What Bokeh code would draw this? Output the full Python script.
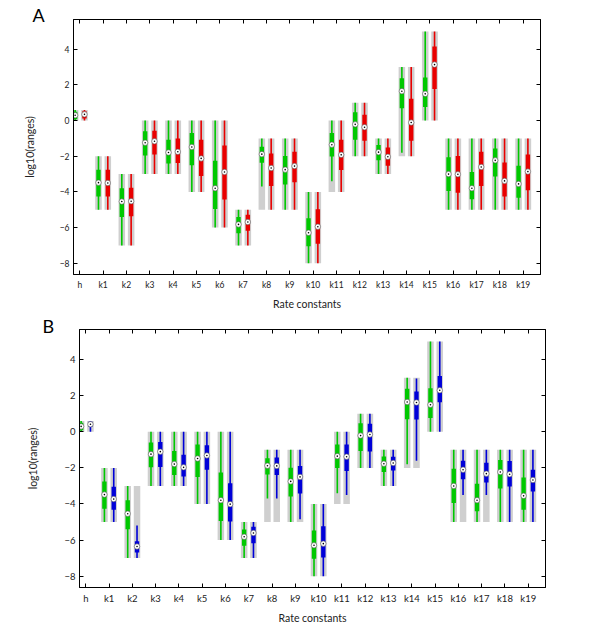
from bokeh.plotting import figure
from bokeh.models import Range1d, FixedTicker, LinearAxis, ColumnDataSource
from bokeh.layouts import column
from bokeh.transform import dodge
from bokeh.embed import file_html
from bokeh.resources import INLINE

categories = ["h", "k1", "k2", "k3", "k4", "k5", "k6", "k7", "k8", "k9", "k10",
              "k11", "k12", "k13", "k14", "k15", "k16", "k17", "k18", "k19"]
y_ticks = [-8, -6, -4, -2, 0, 2, 4]

# prior ranges (grey bars)
prior_lo = [0, -5, -7, -3, -3, -4, -6, -7, -5, -5, -8, -4, -2, -3, -2, 0, -5, -5, -5, -5]
prior_hi = [0.6, -2, -3, 0, 0, 0, 0, -5, -1, -1, -4, 0, 1, -1, 3, 5, -1, -1, -1, -1]

# green series (both panels)
green_wlo = [0, -5, -7, -3, -3, -4, -6, -7, -3.7, -5, -8, -3.4, -2, -3, -1.8, 0, -5, -5, -5, -5]
green_whi = [0.6, -2, -3, 0, 0, 0, 0, -5, -1, -1, -4, 0, 1, -1, 3, 5, -1, -1, -1, -1]
green_q1 = [0.08, -4.26, -5.4, -1.96, -2.4, -2.51, -4.95, -6.32, -2.36, -3.58, -7.04,
            -2.01, -1.07, -2.23, 0.70, 0.76, -3.95, -4.41, -3.14, -4.32]
green_q3 = [0.5, -2.76, -3.8, -0.6, -1.07, -0.70, -2.25, -5.41, -1.46, -1.99, -5.47,
            -0.70, 0.47, -1.37, 2.38, 2.42, -2.05, -2.88, -1.57, -2.53]
green_med = [0.3, -3.48, -4.54, -1.24, -1.79, -1.48, -3.79, -5.82, -1.88, -2.75, -6.29,
             -1.35, -0.21, -1.77, 1.65, 1.5, -3.0, -3.79, -2.23, -3.55]

# red series (panel A)
red_wlo = [0, -5, -7, -3, -3, -4, -6, -7, -5, -5, -8, -4, -2, -3, -2, 0, -5, -5, -5, -5]
red_whi = [0.6, -2, -3, 0, 0, 0, 0, -5, -1, -1, -4, 0, 1, -1, 3, 5, -1, -1, -1, -1]
red_q1 = [0.12, -4.25, -5.37, -1.9, -2.38, -3.1, -4.43, -6.17, -3.67, -3.45, -6.9,
          -2.77, -1.13, -2.53, -1.13, 1.77, -4.04, -3.67, -4.25, -3.9]
red_q3 = [0.52, -2.75, -3.77, -0.57, -1.0, -1.07, -1.40, -5.28, -1.85, -1.75, -4.97,
          -1.07, 0.33, -1.51, 1.22, 4.16, -1.99, -1.75, -2.35, -1.9]
red_med = [0.35, -3.5, -4.52, -1.16, -1.75, -2.12, -2.88, -5.69, -2.66, -2.55, -5.95,
           -1.92, -0.37, -2.03, -0.11, 3.14, -3.01, -2.6, -3.38, -2.86]

# blue series (panel B)
blue_wlo = [0, -5, -7, -3, -3, -4, -6, -7, -3.7, -4.85, -8, -3.5, -2, -3, -1.6, 0, -3.5, -3.5, -5, -5]
blue_whi = [0.6, -2, -5.2, 0, 0, 0, 0, -5, -1, -1, -4, 0, 1, -1, 2.95, 5, -1, -1, -1, -1]
blue_q1 = [0.28, -4.32, -6.69, -1.95, -2.48, -2.1, -4.97, -6.18, -2.39, -3.42, -6.97,
           -2.17, -1.09, -2.15, 0.68, 1.64, -2.63, -2.81, -3.03, -3.31]
blue_q3 = [0.55, -3.05, -6.07, -0.57, -1.27, -0.74, -2.85, -5.26, -1.43, -1.89, -5.24,
           -0.70, 0.44, -1.38, 2.24, 3.09, -1.6, -1.71, -1.62, -2.11]
blue_med = [0.42, -3.73, -6.36, -1.1, -1.97, -1.31, -4.01, -5.61, -1.89, -2.5, -6.2,
            -1.38, -0.15, -1.73, 1.62, 2.3, -2.1, -2.32, -2.35, -2.67]

GREEN = "#00c800"
RED = "#e80000"
BLUE = "#0000d8"
GREY = "#cfcfcf"
FONT = "Lato"


def draw_series(p, off, wlo, whi, q1, q3, med, color):
    src = ColumnDataSource(dict(x=list(range(len(categories))), plo=prior_lo, phi=prior_hi,
                                wlo=wlo, whi=whi, q1=q1, q3=q3, med=med))
    xs = dodge("x", off)
    p.vbar(x=xs, bottom="plo", top="phi", width=0.28, fill_color=GREY, line_color=None, source=src)
    p.segment(x0=xs, y0="wlo", x1=xs, y1="whi", line_color=color, line_width=1.6, source=src)
    p.vbar(x=xs, bottom="q1", top="q3", width=0.19, fill_color=color, line_color=None, source=src)
    p.scatter(x=xs, y="med", size=5.5, fill_color="white", line_color="#555555", line_width=0.6, source=src)
    p.scatter(x=xs, y="med", size=1.6, fill_color="black", line_color=None, source=src)


def make_panel(letter, second, height, borders, title_offset, title_standoff,
               tick_size, ylabel_standoff, xtick_standoff, xlabel_standoff):
    left, right, top, bottom = borders
    p = figure(width=600, height=height, output_backend="svg", toolbar_location=None,
               x_range=Range1d(-0.27, 19.74), y_range=Range1d(-8.63, 5.67),
               min_border_left=left, min_border_right=right,
               min_border_top=top, min_border_bottom=bottom, title=letter)
    try:
        p.frame_align = False
    except Exception:
        pass
    p.title.align = "left"
    p.title.offset = title_offset
    p.title.standoff = title_standoff
    p.title.text_font = FONT
    p.title.text_font_size = "18px"
    p.title.text_font_style = "normal"
    p.title.text_color = "black"

    p.grid.visible = False
    p.outline_line_color = "black"
    p.outline_line_width = 1
    p.background_fill_color = "white"
    p.border_fill_color = "white"

    xt = FixedTicker(ticks=list(range(len(categories))))
    yt = FixedTicker(ticks=y_ticks)
    for ax in p.xaxis:
        ax.ticker = xt
        ax.major_label_overrides = {i: c for i, c in enumerate(categories)}
        ax.axis_label = "Rate constants"
        ax.major_label_text_font_size = tick_size
    for ax in p.yaxis:
        ax.ticker = yt
        ax.axis_label = "log10(ranges)"
        ax.major_label_orientation = "horizontal"
        ax.major_label_text_font_size = tick_size

    for ax in p.axis:
        ax.major_label_text_color = "#222222"

    top_ax = LinearAxis(ticker=xt)
    right_ax = LinearAxis(ticker=yt)
    for ax in [top_ax, right_ax]:
        ax.major_label_text_font_size = "1px"
        ax.major_label_text_color = None
        ax.major_label_standoff = 0
    p.add_layout(top_ax, "above")
    p.add_layout(right_ax, "right")
    for ax in p.axis:
        ax.major_tick_in = 4
        ax.major_tick_out = 0
        ax.minor_tick_in = 0
        ax.minor_tick_out = 0
        ax.axis_line_color = "black"
        ax.major_tick_line_color = "black"
        ax.major_label_text_font = FONT
        ax.axis_label_text_font = FONT
        ax.axis_label_text_font_style = "normal"
        ax.axis_label_text_font_size = "10.5px"
        ax.axis_label_text_color = "#222222"
    p.xaxis[0].major_label_standoff = xtick_standoff
    p.xaxis[0].axis_label_standoff = xlabel_standoff
    p.yaxis[0].major_label_standoff = 4
    p.yaxis[0].axis_label_standoff = ylabel_standoff

    draw_series(p, -0.2, green_wlo, green_whi, green_q1, green_q3, green_med, GREEN)
    wlo, whi, q1, q3, med, color = second
    draw_series(p, 0.2, wlo, whi, q1, q3, med, color)
    return p


pA = make_panel("A", (red_wlo, red_whi, red_q1, red_q3, red_med, RED), 312,
                (73, 60, 19, 35), -41, -12, "8.5px", 21, 4, 0)
pB = make_panel("B", (blue_wlo, blue_whi, blue_q1, blue_q3, blue_med, BLUE), 321,
                (79, 55, 17, 46), -37, -15, "9.5px", 22, 3, 0)

layout = column(pA, pB, spacing=0)
open("out.html", "w").write(file_html(layout, INLINE))
